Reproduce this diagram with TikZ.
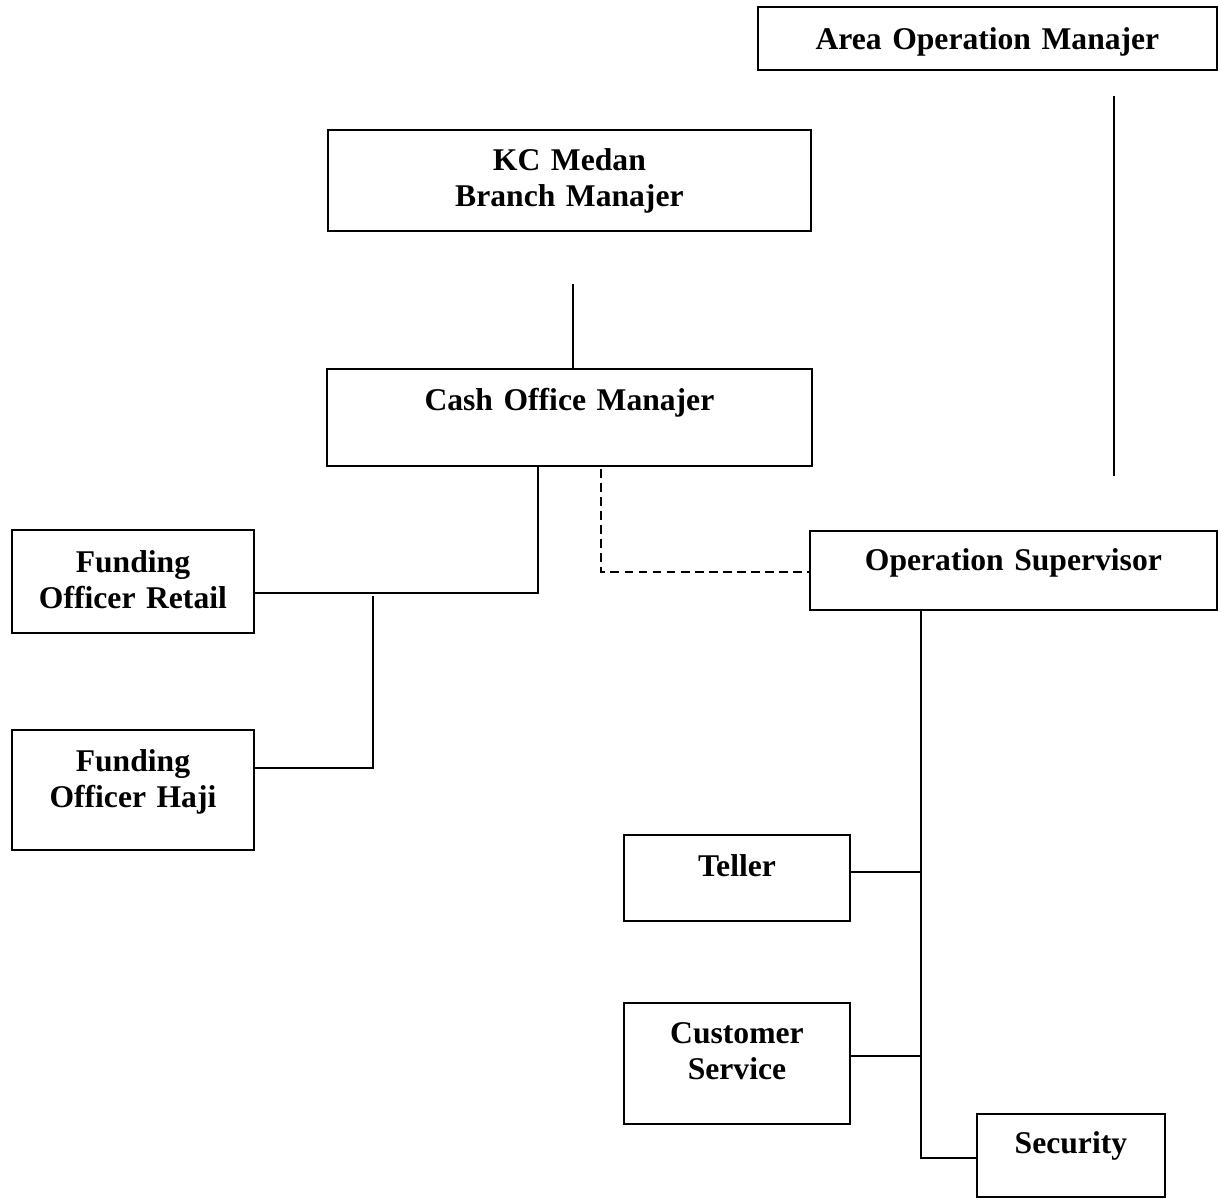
\documentclass[tikz,border=0pt]{standalone}
\usepackage{fontspec}
\setmainfont{Liberation Serif}
\usepackage{tikz}
\usetikzlibrary{calc}
\tikzstyle{link}=[line width=1.1pt]
\tikzset{
    unitbox/.style args={#1 and #2 and #3}{
         draw, line width=1.1pt, anchor=north west, inner sep=0pt,
         align=center, text width=#1, text height=#2, text depth=#3,
         font=\bfseries\fontsize{18}{20.5}\selectfont
    },
    dotted link/.style={link, dash pattern=on 5pt off 3pt}
}

\begin{document}
\begin{tikzpicture}[x=0.02cm, y=-0.02cm]
  \useasboundingbox (0,0) rectangle (1221,1198);

  % units
  \node (area)[unitbox=9.18cm and 0.86cm and 0.41cm] at (757,6) {Area Operation Manajer};
  \node (kc)[unitbox=9.66cm and 0.82cm and 1.2cm] at (327,129) {KC Medan\\Branch Manajer};
  \node (cash)[unitbox=9.7cm and 0.83cm and 1.12cm] at (326,368) {Cash Office Manajer};
  \node (retail)[unitbox=4.84cm and 0.86cm and 1.2cm] at (11,529) {Funding\\Officer Retail};
  \node (haji)[unitbox=4.84cm and 0.83cm and 1.58cm] at (11,729) {Funding\\Officer Haji};
  \node (opsup)[unitbox=8.14cm and 0.8cm and 0.78cm] at (809,530) {Operation Supervisor};
  \node (teller)[unitbox=4.52cm and 0.84cm and 0.89cm] at (623,834) {Teller};
  \node (cs)[unitbox=4.52cm and 0.81cm and 1.62cm] at (623,1002) {Customer\\Service};
  \node (security)[unitbox=3.76cm and 0.8cm and 0.86cm] at (976,1113) {Security};

  % junctions
  \coordinate (kcfoot) at (573,284);
  \coordinate (areatop) at (1114,96);
  \coordinate (areafoot) at (1114,476);
  \coordinate (cashdrop) at (538,593);
  \coordinate (fundjoin) at (373,596);
  \coordinate (hajitap) at (373,768);
  \coordinate (dashtop) at (601,469);
  \coordinate (dashcorner) at (601,572);
  \coordinate (tellertap) at (921,872);
  \coordinate (cstap) at (921,1056);
  \coordinate (sectap) at (921,1158);

  \draw[link] (kcfoot) -- (kcfoot |- cash.north);
  \draw[link] (areatop) -- (areafoot);
  \draw[link] (cash.south -| cashdrop) -- (cashdrop) -- (retail.east |- cashdrop);
  \draw[link] (fundjoin) -- (hajitap) -- (haji.east |- hajitap);
  \draw[dotted link] (dashtop) -- (dashcorner) -- (opsup.west |- dashcorner);
  \draw[link] (opsup.south -| sectap) -- (sectap) -- (security.west |- sectap);
  \draw[link] (teller.east |- tellertap) -- (tellertap);
  \draw[link] (cs.east |- cstap) -- (cstap);

\end{tikzpicture}
\end{document}
